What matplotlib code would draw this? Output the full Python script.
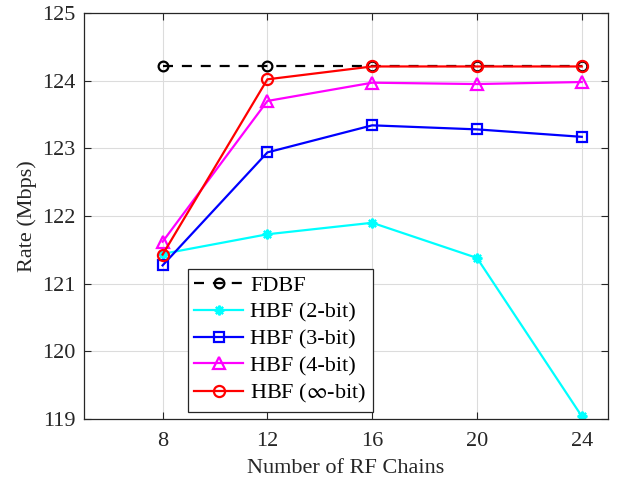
import matplotlib.pyplot as plt

plt.rcParams['font.family'] = ['Liberation Serif', 'DejaVu Serif']
plt.rcParams['mathtext.fontset'] = 'stix'

# data
rf_chains = [8, 12, 16, 20, 24]
fdbf = [124.21, 124.21, 124.21, 124.21, 124.21]
hbf_2bit = [121.44, 121.73, 121.90, 121.38, 119.04]
hbf_3bit = [121.27, 122.94, 123.34, 123.28, 123.17]
hbf_4bit = [121.62, 123.70, 123.97, 123.95, 123.98]
hbf_inf = [121.43, 124.02, 124.21, 124.21, 124.21]

fig = plt.figure(figsize=(6.3, 4.84), dpi=100)
ax = fig.add_axes([84 / 630, 1 - 419 / 484, 524 / 630, 406 / 484])

lw = 1.6
ms = 7
fs = 16
ax.plot(rf_chains, fdbf, color='black', linestyle=(0, (4.5, 4)), marker='o', markersize=ms,
        markerfacecolor='none', markeredgewidth=1.6, linewidth=lw, label='FDBF')
ax.plot(rf_chains, hbf_2bit, color='cyan', marker=(8, 2, 0), markersize=ms,
        markeredgewidth=1.6, linewidth=lw, label='HBF (2-bit)')
ax.plot(rf_chains, hbf_3bit, color='blue', marker='s', markersize=ms,
        markerfacecolor='none', markeredgewidth=1.6, linewidth=lw, label='HBF (3-bit)')
ax.plot(rf_chains, hbf_4bit, color='magenta', marker='^', markersize=ms + 1,
        markerfacecolor='none', markeredgewidth=1.6, linewidth=lw, label='HBF (4-bit)')
ax.plot(rf_chains, hbf_inf, color='red', marker='o', markersize=ms + 1,
        markerfacecolor='none', markeredgewidth=1.6, linewidth=lw, label=r'HBF ($\infty$-bit)')

ax.set_xlim(5, 25)
ax.set_ylim(119, 125)
ax.set_xticks(rf_chains)
ax.set_yticks(range(119, 126))
ax.grid(True, color='#dcdcdc', linewidth=0.8)
ax.set_axisbelow(True)
ax.tick_params(direction='in', top=True, right=True, labelsize=fs, length=5,
               color='#262626', labelcolor='#262626')
ax.tick_params(axis='x', pad=9)
ax.tick_params(axis='y', pad=6)
for s in ax.spines.values():
    s.set_color('#262626')
    s.set_linewidth(0.9)

ax.set_xlabel('Number of RF Chains', fontsize=fs, color='#262626', labelpad=6)
ax.set_ylabel('Rate (Mbps)', fontsize=fs, color='#262626', labelpad=4)

leg = ax.legend(loc='lower left', bbox_to_anchor=(0.198, 0.017), fontsize=fs,
                frameon=True, fancybox=False, edgecolor='#262626', framealpha=1,
                handlelength=2.2, handletextpad=0.3, labelspacing=0.28,
                borderpad=0.3, borderaxespad=0)
leg.get_frame().set_linewidth(0.9)

fig.savefig('out.png', dpi=100)
